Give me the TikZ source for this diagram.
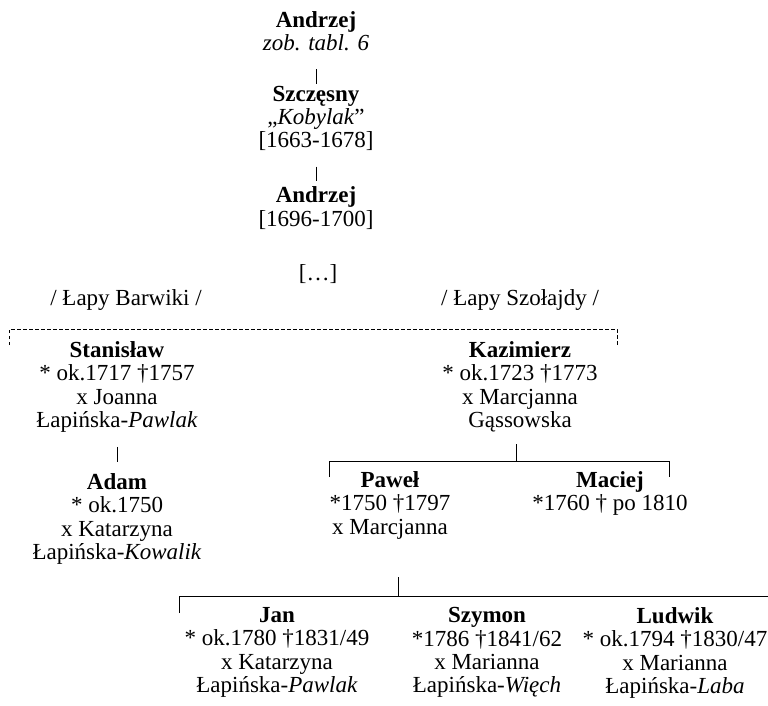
\documentclass[tikz,border=0pt]{standalone}
\usepackage{fontspec}
\setmainfont{Liberation Serif}
\usetikzlibrary{positioning}

\begin{document}
\begin{tikzpicture}[x=1pt, y=-1pt,
    person/.style={align=center, inner sep=0pt, anchor=north, font=\fontsize{23}{23.4}\selectfont},
    branch/.style={person},
    bar/.style={draw, line width=1pt},
    split/.style={draw, line width=0.9pt, dash pattern=on 3.5pt off 2.5pt},
]
    \useasboundingbox (0,0) rectangle (768,705);

    % Main line
    \node[person] (andrzej) at (316,11.3) {\textbf{Andrzej}\\ \textit{zob. tabl. 6}};
    \node[person, below=34.2pt of andrzej] (szczesny) {\textbf{Szczęsny}\\ „\textit{Kobylak}”\\ {[1663-1678]}};
    \node[person, below=35.7pt of szczesny] (andrzejb) {\textbf{Andrzej}\\ {[1696-1700]}};
    \node[branch] (gap) at (318,264.8) {[…]};

    % Branches
    \node[branch] (barwiki) at (126,289.3) {/ Łapy Barwiki /};
    \node[branch] (szolajdy) at (520,289.3) {/ Łapy Szołajdy /};

    % Generation of Stanisław and Kazimierz
    \node[person] (stanislaw) at (117,341.3) {\textbf{Stanisław}\\ * ok.1717 †1757\\ x Joanna\\ Łapińska-\textit{Pawlak}};
    \node[person, below=40.3pt of stanislaw] (adam) {\textbf{Adam}\\ * ok.1750\\ x Katarzyna\\ Łapińska-\textit{Kowalik}};
    \node[person] (kazimierz) at (520,341.3) {\textbf{Kazimierz}\\ * ok.1723 †1773\\ x Marcjanna\\ Gąssowska};
    \node[person] (pawel) at (390,471.3) {\textbf{Paweł}\\ *1750 †1797\\ x Marcjanna};
    \node[person] (maciej) at (610,471.3) {\textbf{Maciej}\\ *1760 † po 1810};

    % Sons of Paweł
    \node[person] (jan) at (277,607.3) {\textbf{Jan}\\ * ok.1780 †1831/49\\ x Katarzyna\\ Łapińska-\textit{Pawlak}};
    \node[person] (szymon) at (487,607.3) {\textbf{Szymon}\\ *1786 †1841/62\\ x Marianna\\ Łapińska-\textit{Więch}};
    \node[person] (ludwik) at (675,607.3) {\textbf{Ludwik}\\ * ok.1794 †1830/47\\ x Marianna\\ Łapińska-\textit{Laba}};

    % Descent
    \draw[bar, shorten <=18pt, shorten >=2pt] (andrzej) -- (szczesny);
    \draw[bar, shorten <=15.5pt, shorten >=5.3pt] (szczesny) -- (andrzejb);
    \draw[bar, shorten <=14pt, shorten >=11pt] (stanislaw) -- (adam);

    % Split into lines
    \coordinate (dleft) at (9,345);
    \coordinate (dright) at (617,345);
    \draw[split] (dleft) -- ++(0,-16) -| (dright);

    % Children of Kazimierz
    \coordinate (kjoin) at (516,461);
    \coordinate (kleft) at (329,477);
    \coordinate (kright) at (669,477);
    \draw[bar, shorten <=12pt] (kazimierz.south -| kjoin) -- (kjoin);
    \draw[bar] (kleft) |- (kjoin) -| (kright);

    % Children of Paweł
    \coordinate (pjoin) at (398,596);
    \coordinate (pleft) at (179,613);
    \coordinate (pright) at (768,596);
    \draw[bar, shorten <=38pt] (pawel.south -| pjoin) -- (pjoin);
    \draw[bar] (pleft) |- (pjoin) -- (pright);
\end{tikzpicture}
\end{document}
